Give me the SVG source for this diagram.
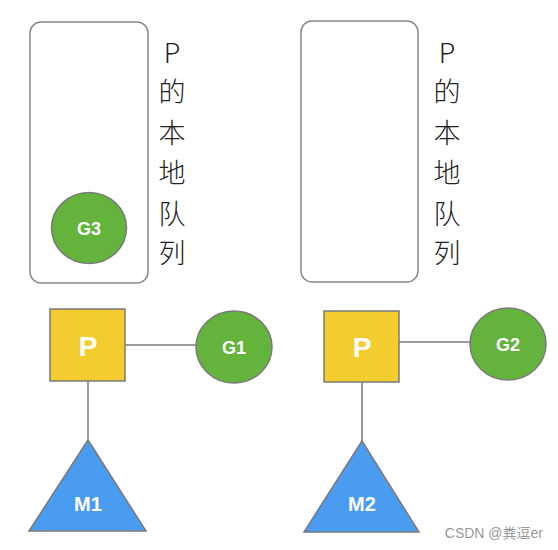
<svg xmlns="http://www.w3.org/2000/svg" width="558" height="550" viewBox="0 0 558 550">
<style>
.box{fill:#fff;stroke:#888;stroke-width:1.5}
.p{fill:#F3CD2F;stroke:#7a7a7a;stroke-width:1.5}
.g{fill:#63B33D;stroke:#7a7a7a;stroke-width:1.5}
.m{fill:#4A9CF0;stroke:#7a7a7a;stroke-width:1.5}
.lbl{font-family:"Liberation Sans",Arial,sans-serif;font-weight:bold;fill:#fff;text-anchor:middle}
.col{font-family:"Noto Sans CJK SC","Liberation Sans",sans-serif;font-size:27px;fill:#222;text-anchor:middle;font-weight:300}
.ln{stroke:#7a7a7a;stroke-width:1.5;fill:none}
</style>
<rect width="558" height="550" fill="#fff"/>
<g id="queue1">
<rect class="box" x="30" y="22" width="118" height="261" rx="11"/>
<text class="col" x="172"><tspan x="172" y="63">P</tspan><tspan x="172" y="102">的</tspan><tspan x="172" y="143">本</tspan><tspan x="172" y="183">地</tspan><tspan x="172" y="224">队</tspan><tspan x="172" y="263">列</tspan></text>
</g>
<g id="G3">
<ellipse class="g" cx="89" cy="228" rx="37.5" ry="35.5"/>
<text class="lbl" x="89" y="235" font-size="18">G3</text>
</g>
<g id="queue2">
<rect class="box" x="301" y="21" width="117" height="261" rx="11"/>
<text class="col" x="447"><tspan x="447" y="63">P</tspan><tspan x="447" y="102">的</tspan><tspan x="447" y="143">本</tspan><tspan x="447" y="183">地</tspan><tspan x="447" y="224">队</tspan><tspan x="447" y="263">列</tspan></text>
</g>
<g id="connectors">
<line class="ln" x1="125" y1="345" x2="196" y2="345"/>
<line class="ln" x1="88" y1="381" x2="88" y2="440"/>
<line class="ln" x1="399" y1="342" x2="470" y2="342"/>
<line class="ln" x1="362" y1="382" x2="362" y2="441"/>
</g>
<g id="P1">
<rect class="p" x="50" y="309" width="75" height="72"/>
<text class="lbl" x="88" y="356" font-size="28">P</text>
</g>
<g id="G1">
<ellipse class="g" cx="234" cy="347" rx="38" ry="36"/>
<text class="lbl" x="234" y="354" font-size="18">G1</text>
</g>
<g id="M1">
<polygon class="m" points="88,440 146,531 29,531"/>
<text class="lbl" x="88" y="511" font-size="20">M1</text>
</g>
<g id="P2">
<rect class="p" x="324" y="311" width="75" height="71"/>
<text class="lbl" x="362" y="357" font-size="28">P</text>
</g>
<g id="G2">
<ellipse class="g" cx="508" cy="344" rx="38" ry="36"/>
<text class="lbl" x="508" y="351" font-size="18">G2</text>
</g>
<g id="M2">
<polygon class="m" points="362,441 419,532 304,532"/>
<text class="lbl" x="362" y="511" font-size="20">M2</text>
</g>
<text x="543" y="538" font-family="'Liberation Sans','Noto Sans CJK SC',sans-serif" font-size="14" fill="#999" text-anchor="end">CSDN @粪逗er</text>
</svg>
